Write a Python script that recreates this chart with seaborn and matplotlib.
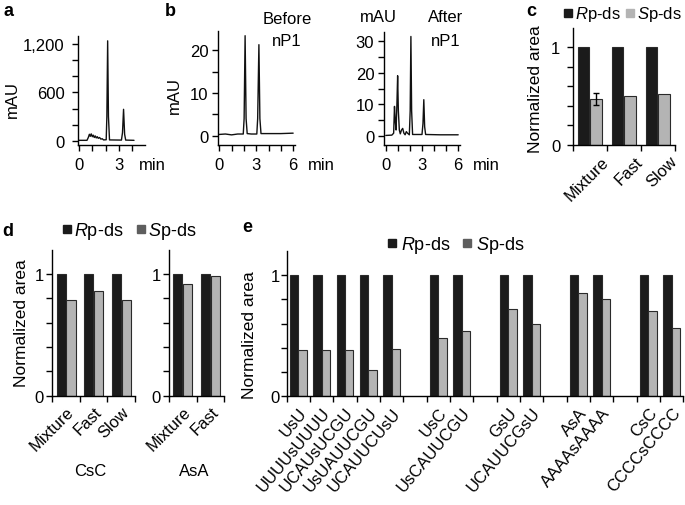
import numpy as np
import pandas as pd
import matplotlib
matplotlib.use("Agg")
import matplotlib.pyplot as plt
from matplotlib.lines import Line2D
from matplotlib.transforms import ScaledTranslation
import seaborn as sns

# ---------------- data ----------------
# panel a chromatogram
a_time = [0.0, 0.6, 0.7, 0.78, 0.85, 0.92, 1.0, 1.07, 1.15, 1.22, 1.3, 1.38, 1.45, 1.55, 1.65, 1.75, 1.85,
          2.05, 2.1, 2.16, 2.22, 2.3, 3.2, 3.28, 3.36, 3.44, 3.52, 4.15]
a_mau = [5, 5, 40, 80, 55, 85, 50, 70, 40, 60, 35, 50, 30, 40, 20, 25, 10,
         12, 300, 1240, 300, 10, 8, 100, 390, 80, 8, 5]
# panel b, before nP1
b1_time = [0, 0.5, 1.0, 1.5, 1.95, 2.02, 2.1, 2.18, 2.27, 2.6, 3.05, 3.12, 3.22, 3.3, 3.39, 4, 5, 6]
b1_mau = [0.3, 0.4, 0.2, 0.4, 0.4, 4, 23.4, 4, 0.5, 0.4, 0.4, 4, 21.3, 4, 0.5, 0.5, 0.5, 0.6]
# panel b, after nP1
b2_time = [0, 0.5, 0.65, 0.72, 0.78, 0.85, 0.92, 0.98, 1.04, 1.12, 1.2, 1.3, 1.4, 1.5, 1.6, 1.7, 1.8,
           1.95, 2.02, 2.08, 2.14, 2.22, 3.0, 3.08, 3.15, 3.22, 3.3, 4.5, 6]
b2_mau = [0.3, 0.4, 1, 9.4, 5, 2, 10, 19, 8, 2, 0.8, 2, 2.5, 1, 0.5, 1.5, 1,
          0.5, 8, 31.3, 8, 0.6, 0.6, 4, 11.5, 3, 0.6, 0.5, 0.5]

# panel c
c_conditions = ["Mixture", "Fast", "Slow"]
c_rp = [1.0, 1.0, 1.0]
c_sp = [0.47, 0.50, 0.52]
c_sp_err = [0.065, 0.0, 0.0]

# panel d
csc_conditions = ["Mixture", "Fast", "Slow"]
csc_rp = [1.0, 1.0, 1.0]
csc_sp = [0.79, 0.86, 0.79]
asa_conditions = ["Mixture", "Fast"]
asa_rp = [1.0, 1.0]
asa_sp = [0.92, 0.98]

# panel e
e_sequences = ["UsU", "UUUUsUUUU", "UCAUsUCGU", "UsUAUUCGU", "UCAUUCUsU",
               "UsC", "UsCAUUCGU", "GsU", "UCAUUCGsU", "AsA", "AAAAsAAAA",
               "CsC", "CCCCsCCCC"]
e_rp = [1.0, 1.0, 1.0, 1.0, 1.0, 1.0, 1.0, 1.0, 1.0, 1.0, 1.0, 1.0, 1.0]
e_sp = [0.38, 0.38, 0.38, 0.22, 0.39, 0.48, 0.54, 0.72, 0.60, 0.85, 0.80, 0.70, 0.56]
e_slot_order = ["UsU", "UUUUsUUUU", "UCAUsUCGU", "UsUAUUCGU", "UCAUUCUsU", "_gap1",
                "UsC", "UsCAUUCGU", "_gap2", "GsU", "UCAUUCGsU", "_gap3",
                "AsA", "AAAAsAAAA", "_gap4", "CsC", "CCCCsCCCC"]

forms = ["Rp", "Sp"]

# ---------------- style ----------------
sns.set_theme(style="ticks")
plt.rcParams["font.family"] = ["Liberation Sans", "DejaVu Sans"]
plt.rcParams["mathtext.fontset"] = "custom"
plt.rcParams["mathtext.rm"] = "Liberation Sans"
plt.rcParams["mathtext.it"] = "Liberation Sans:italic"
plt.rcParams["axes.linewidth"] = 1.0
plt.rcParams["axes.edgecolor"] = "black"
plt.rcParams["xtick.color"] = "black"
plt.rcParams["ytick.color"] = "black"
plt.rcParams["text.color"] = "black"

FS = 12
W, H = 685, 506
fig = plt.figure(figsize=(W / 100, H / 100), dpi=100)


def box(l, t, r, b):
    return [l / W, 1 - b / H, (r - l) / W, (b - t) / H]


def ftext(x, y, s, **kw):
    kw.setdefault("ha", "center")
    kw.setdefault("va", "center")
    kw.setdefault("fontsize", FS)
    fig.text(x / W, 1 - y / H, s, **kw)


def style_axes(ax, xpad=6, ypad=4):
    sns.despine(ax=ax)
    ax.tick_params(axis="both", which="both", direction="out", length=4, width=1,
                   labelsize=FS, color="black")
    ax.tick_params(axis="x", which="both", pad=xpad)
    ax.tick_params(axis="y", which="both", pad=ypad)
    ax.set_xlabel("")
    ax.set_ylabel("")


# ---------------- panel a ----------------
ax_a = fig.add_axes(box(77.7, 37, 145.3, 146))
sns.lineplot(x=a_time, y=a_mau, ax=ax_a, color="#111111", lw=1.0, sort=False)
ax_a.set_xlim(-0.1, 5.0)
ax_a.set_ylim(-53, 1300)
ax_a.set_xticks([0, 3])
ax_a.set_xticks([1, 2, 4], minor=True)
ax_a.set_yticks([0, 600, 1200])
ax_a.set_yticklabels(["0", "600", "1,200"])
ax_a.set_yticks([200, 400, 800, 1000], minor=True)
style_axes(ax_a, xpad=5, ypad=5.5)

# ---------------- panel b (before) ----------------
ax_b1 = fig.add_axes(box(218, 32, 295, 145.7))
sns.lineplot(x=b1_time, y=b1_mau, ax=ax_b1, color="#111111", lw=1.0, sort=False)
ax_b1.set_xlim(-0.1, 6.15)
ax_b1.set_ylim(-2.1, 24.5)
ax_b1.set_xticks([0, 3, 6])
ax_b1.set_xticks([1, 2, 4, 5], minor=True)
ax_b1.set_yticks([0, 10, 20])
ax_b1.set_yticks([5, 15], minor=True)
style_axes(ax_b1, xpad=5, ypad=3)

# ---------------- panel b (after) ----------------
ax_b2 = fig.add_axes(box(384, 33, 460, 145.7))
sns.lineplot(x=b2_time, y=b2_mau, ax=ax_b2, color="#111111", lw=1.0, sort=False)
ax_b2.set_xlim(-0.15, 6.15)
ax_b2.set_ylim(-2.6, 32.7)
ax_b2.set_xticks([0, 3, 6])
ax_b2.set_xticks([1, 2, 4, 5], minor=True)
ax_b2.set_yticks([0, 10, 20, 30])
ax_b2.set_yticks([5, 15, 25], minor=True)
style_axes(ax_b2, xpad=5, ypad=3)

# ---------------- bar helper ----------------
PAL = {"Rp": "#1b1b1b", "Sp": "#b4b4b4"}


def bar_panel(ax, cats, rp, sp, order=None, gap=0.08):
    df = pd.DataFrame({
        "cat": list(cats) * 2,
        "form": ["Rp"] * len(cats) + ["Sp"] * len(cats),
        "area": list(rp) + list(sp),
    })
    sns.barplot(data=df, x="cat", y="area", hue="form", order=order if order else list(cats),
                hue_order=forms, palette=PAL, saturation=1, width=0.72, gap=gap,
                edgecolor="#2a2a2a", linewidth=0.8, errorbar=None, legend=False, ax=ax)
    n = len(order) if order else len(cats)
    ax.set_xlim(-0.5, n - 0.5)
    ax.set_ylim(0, 1.2)
    ax.set_yticks([0, 1])
    ax.set_yticks([0.2, 0.4, 0.6, 0.8], minor=True)
    ax.set_xticks(np.arange(-0.5, n, 1.0), minor=True)
    return df


def set_cat_labels(ax, labels, rot=45, shift_px=0):
    ax.set_xticks(range(len(labels)))
    ax.set_xticklabels(labels, rotation=rot, ha="right", va="top", rotation_mode="anchor")
    ax.tick_params(axis="x", which="major", length=0)
    if shift_px:
        off = ScaledTranslation(shift_px / 100, 0, fig.dpi_scale_trans)
        for lab in ax.get_xticklabels():
            lab.set_transform(lab.get_transform() + off)


def add_legend(xl, y, sp_color, fs=FS, tpad=0.12, cspace=0.65, msize=5.5):
    handles = [Line2D([], [], marker="s", ls="", color=PAL["Rp"], markersize=msize),
               Line2D([], [], marker="s", ls="", color=sp_color, markersize=msize)]
    fig.legend(handles, [r"$\mathit{R}$p-ds", r"$\mathit{S}$p-ds"], ncol=2,
               loc="center left", bbox_to_anchor=(xl / W, 1 - y / H), frameon=False,
               handlelength=0.6, handletextpad=tpad, columnspacing=cspace,
               borderpad=0, borderaxespad=0, fontsize=fs)


# ---------------- panel c ----------------
ax_c = fig.add_axes(box(572.7, 28.8, 675, 146))
bar_panel(ax_c, c_conditions, c_rp, c_sp)
sp_bars = ax_c.containers[1]
for bar, val, err in zip(sp_bars, c_sp, c_sp_err):
    if err > 0:
        ax_c.errorbar(bar.get_x() + bar.get_width() / 2, val, yerr=err, color="black",
                      capsize=2.5, lw=1, capthick=1)
style_axes(ax_c, xpad=6, ypad=5)
set_cat_labels(ax_c, c_conditions, shift_px=11)
add_legend(563, 15, "#b4b4b4", fs=12, tpad=0.1, cspace=0.3)

# ---------------- panel d ----------------
ax_d1 = fig.add_axes(box(52.3, 250.7, 135, 396.7))
bar_panel(ax_d1, csc_conditions, csc_rp, csc_sp)
style_axes(ax_d1, xpad=6, ypad=2)
set_cat_labels(ax_d1, csc_conditions)

ax_d2 = fig.add_axes(box(169, 250.7, 224.5, 396.7))
bar_panel(ax_d2, asa_conditions, asa_rp, asa_sp)
style_axes(ax_d2, xpad=6, ypad=2)
set_cat_labels(ax_d2, asa_conditions)
add_legend(62, 232, "#5e5e5e", fs=13, tpad=0.08, cspace=0.66, msize=6)

# ---------------- panel e ----------------
ax_e = fig.add_axes(box(286.7, 251.7, 683.3, 397.3))
bar_panel(ax_e, e_sequences, e_rp, e_sp, order=e_slot_order, gap=0.0)
style_axes(ax_e, xpad=6, ypad=1)
set_cat_labels(ax_e, [s if not s.startswith("_") else "" for s in e_slot_order], rot=50)
add_legend(386.7, 246, "#5e5e5e", fs=13, tpad=0.18, cspace=0.65, msize=6)

# ---------------- text ----------------
ftext(9, 12, "a", fontsize=13, fontweight="bold")
ftext(170, 12, "b", fontsize=13, fontweight="bold")
ftext(531, 12, "c", fontsize=13, fontweight="bold")
ftext(8, 232, "d", fontsize=13, fontweight="bold")
ftext(247, 227, "e", fontsize=13, fontweight="bold")

ftext(12, 99, "mAU", rotation=90)
ftext(174, 95, "mAU", rotation=90)
ftext(378, 18, "mAU")
ftext(287, 20, "Before")
ftext(287, 42, "nP1")
ftext(446, 18, "After")
ftext(446, 42, "nP1")
ftext(152, 165, "min")
ftext(321, 165, "min")
ftext(486, 165, "min")

ftext(535, 89, "Normalized area", rotation=90, fontsize=12.5)
ftext(22, 323, "Normalized area", rotation=90, fontsize=12.5)
ftext(250, 335, "Normalized area", rotation=90, fontsize=12.5)
ftext(90, 472, "CsC")
ftext(194, 472, "AsA")

fig.savefig("out.png", dpi=100)
